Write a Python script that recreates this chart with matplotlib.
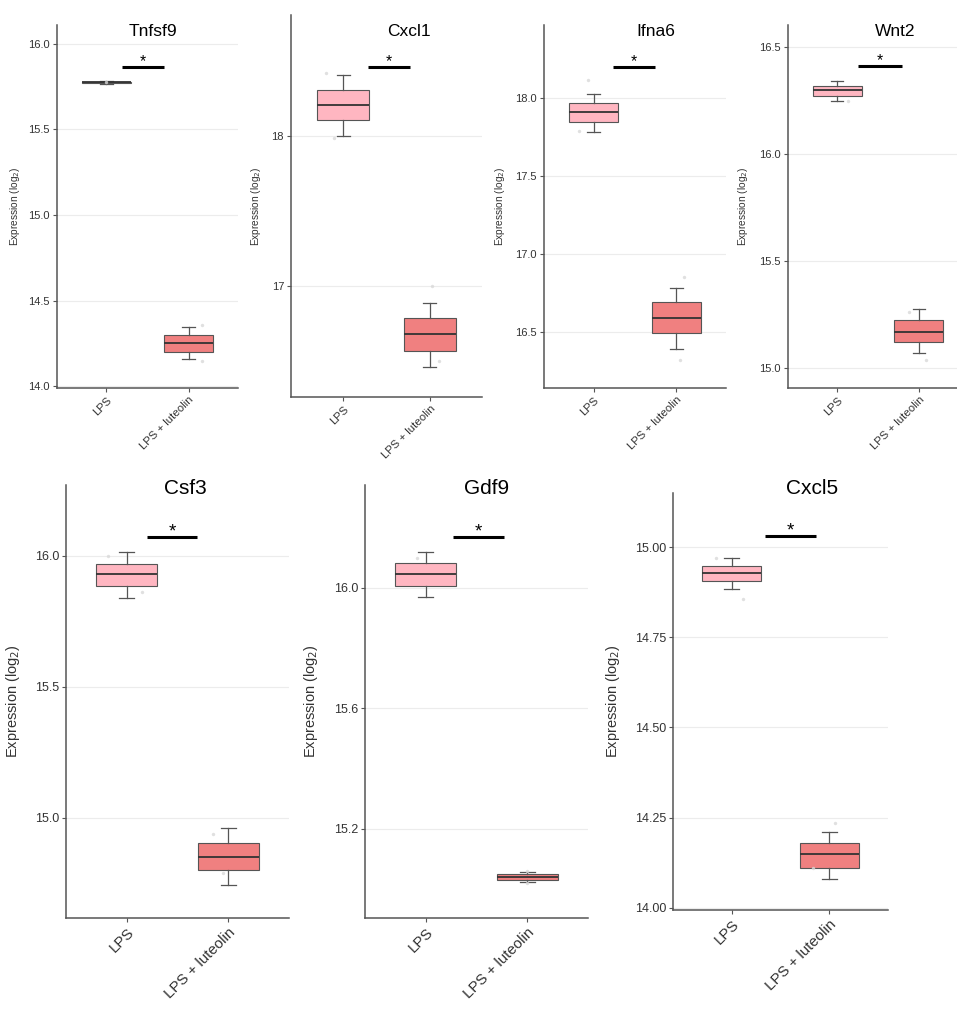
import matplotlib
matplotlib.use("Agg")
import matplotlib.pyplot as plt

plt.rcParams["font.family"] = ["Liberation Sans", "DejaVu Sans"]

genes = ["Tnfsf9", "Cxcl1", "Ifna6", "Wnt2", "Csf3", "Gdf9", "Cxcl5"]
groups = ["LPS", "LPS + luteolin"]

# box stats per gene: [whisker low, q1, median, q3, whisker high]
lps_box = [
    [15.768, 15.771, 15.775, 15.779, 15.782],
    [18.00, 18.11, 18.21, 18.31, 18.41],
    [17.78, 17.85, 17.91, 17.97, 18.03],
    [16.25, 16.27, 16.30, 16.32, 16.34],
    [15.84, 15.885, 15.93, 15.97, 16.015],
    [15.97, 16.007, 16.047, 16.083, 16.12],
    [14.883, 14.906, 14.928, 14.948, 14.97],
]
lut_box = [
    [14.16, 14.20, 14.25, 14.30, 14.345],
    [16.46, 16.57, 16.68, 16.79, 16.89],
    [16.39, 16.49, 16.59, 16.69, 16.78],
    [15.07, 15.12, 15.17, 15.224, 15.276],
    [14.745, 14.80, 14.85, 14.905, 14.96],
    [15.025, 15.03, 15.04, 15.05, 15.057],
    [14.08, 14.11, 14.148, 14.18, 14.21],
]

# faint jittered sample points (x, y) as seen in the picture
points = [
    [(1.0, 15.78), (2.16, 14.36), (2.16, 14.15)],
    [(0.80, 18.42), (0.89, 17.99), (2.02, 17.0), (2.10, 16.5)],
    [(0.93, 18.115), (0.82, 17.79), (2.09, 16.85), (2.04, 16.32)],
    [(1.13, 16.25), (1.88, 15.26), (2.09, 15.04)],
    [(0.81, 16.0), (1.15, 15.86), (1.85, 14.94), (1.95, 14.79)],
    [(0.91, 16.1), (2.0, 15.06), (2.0, 15.02)],
    [(0.84, 14.97), (1.12, 14.856), (2.06, 14.236), (1.83, 14.11)],
]

# significance bar: x start, x end, y
sig_bars = [
    (1.19, 1.70, 15.866),
    (1.29, 1.77, 18.46),
    (1.23, 1.74, 18.20),
    (1.25, 1.79, 16.41),
    (1.20, 1.69, 16.07),
    (1.27, 1.77, 16.17),
    (1.34, 1.86, 15.03),
]

y_limits = [
    (13.99, 16.11), (16.26, 18.807), (16.14, 18.47), (14.907, 16.603),
    (14.618, 16.27), (14.904, 16.342), (13.994, 15.15),
]
y_ticks = [
    [14.0, 14.5, 15.0, 15.5, 16.0],
    [17, 18],
    [16.5, 17.0, 17.5, 18.0],
    [15.0, 15.5, 16.0, 16.5],
    [15.0, 15.5, 16.0],
    [15.2, 15.6, 16.0],
    [14.00, 14.25, 14.50, 14.75, 15.00],
]
y_tick_labels = [
    ["14.0", "14.5", "15.0", "15.5", "16.0"],
    ["17", "18"],
    ["16.5", "17.0", "17.5", "18.0"],
    ["15.0", "15.5", "16.0", "16.5"],
    ["15.0", "15.5", "16.0"],
    ["15.2", "15.6", "16.0"],
    ["14.00", "14.25", "14.50", "14.75", "15.00"],
]

# layout in pixels: left, right, top, bottom, title x, title y, ylabel x
W, H = 957, 1010
layout = [
    (57, 238, 25, 388, 153, 32, 22),
    (291, 482, 15, 397, 409, 32, 263),
    (544, 726, 25, 388, 656, 32, 507),
    (788, 968, 25, 388, 895, 32, 750),
    (66, 289, 485, 918, 185, 488, 22),
    (365, 588, 485, 918, 487, 488, 320),
    (673, 888, 493, 910, 812, 488, 622),
]

lps_color = "#FFB6C1"
lut_color = "#F08080"
edge = "#555555"

fig = plt.figure(figsize=(W / 100, H / 100), dpi=100)

for i, gene in enumerate(genes):
    L, R, T, B, tx, ty, lx = layout[i]
    ax = fig.add_axes([L / W, 1 - B / H, (R - L) / W, (B - T) / H])
    top_row = i < 4
    fs_tick = 8 if top_row else 9
    fs_lab = 7.3 if top_row else 10.5
    fs_x = 8.2 if top_row else 10.8
    fs_title = 12.5 if top_row else 15

    stats = []
    for box, name in zip([lps_box[i], lut_box[i]], groups):
        stats.append(dict(whislo=box[0], q1=box[1], med=box[2], q3=box[3],
                          whishi=box[4], fliers=[], label=name))
    bp = ax.bxp(stats, positions=[1, 2], widths=0.6, capwidths=0.15,
                patch_artist=True, showfliers=False,
                boxprops=dict(edgecolor=edge, linewidth=0.8),
                whiskerprops=dict(color=edge, linewidth=0.9),
                capprops=dict(color=edge, linewidth=0.9),
                medianprops=dict(color="#333333", linewidth=1.3))
    for patch, c in zip(bp["boxes"], [lps_color, lut_color]):
        patch.set_facecolor(c)
    for p in bp["boxes"] + bp["medians"] + bp["whiskers"] + bp["caps"]:
        p.set_zorder(3)

    px = [p[0] for p in points[i]]
    py = [p[1] for p in points[i]]
    ax.scatter(px, py, s=6, color="#d9d9d9", alpha=0.8, zorder=4, linewidths=0)

    x1, x2, sy = sig_bars[i]
    ax.plot([x1, x2], [sy, sy], color="black", linewidth=2.2, solid_capstyle="butt", zorder=5)
    ax.annotate("*", xy=((x1 + x2) / 2, sy), xytext=(0, -1.5 if top_row else -2.5),
                textcoords="offset points", ha="center", va="bottom",
                fontsize=fs_title * 0.9, color="black")

    ax.set_xlim(0.4, 2.6)
    ax.set_ylim(*y_limits[i])
    ax.set_yticks(y_ticks[i])
    ax.set_yticklabels(y_tick_labels[i], fontsize=fs_tick, color="#333333")
    ax.set_xticks([1, 2])
    ax.set_xticklabels(groups, rotation=45, ha="right", rotation_mode="anchor",
                       fontsize=fs_x, color="#333333")
    ax.tick_params(length=3, width=0.8, color="#555555", pad=2)
    ax.grid(axis="y", color="#ececec", linewidth=0.8)
    ax.set_axisbelow(True)
    for s in ["top", "right"]:
        ax.spines[s].set_visible(False)
    for s in ["left", "bottom"]:
        ax.spines[s].set_color("#555555")
        ax.spines[s].set_linewidth(1.1)

    ax.set_ylabel("Expression (log$_2$)", fontsize=fs_lab, color="#333333")
    ax.yaxis.set_label_coords((lx - L) / (R - L), 0.5)

    fig.text(tx / W, 1 - ty / H, gene, ha="center", va="center",
             fontsize=fs_title, color="black")

fig.savefig("out.png", dpi=100)
